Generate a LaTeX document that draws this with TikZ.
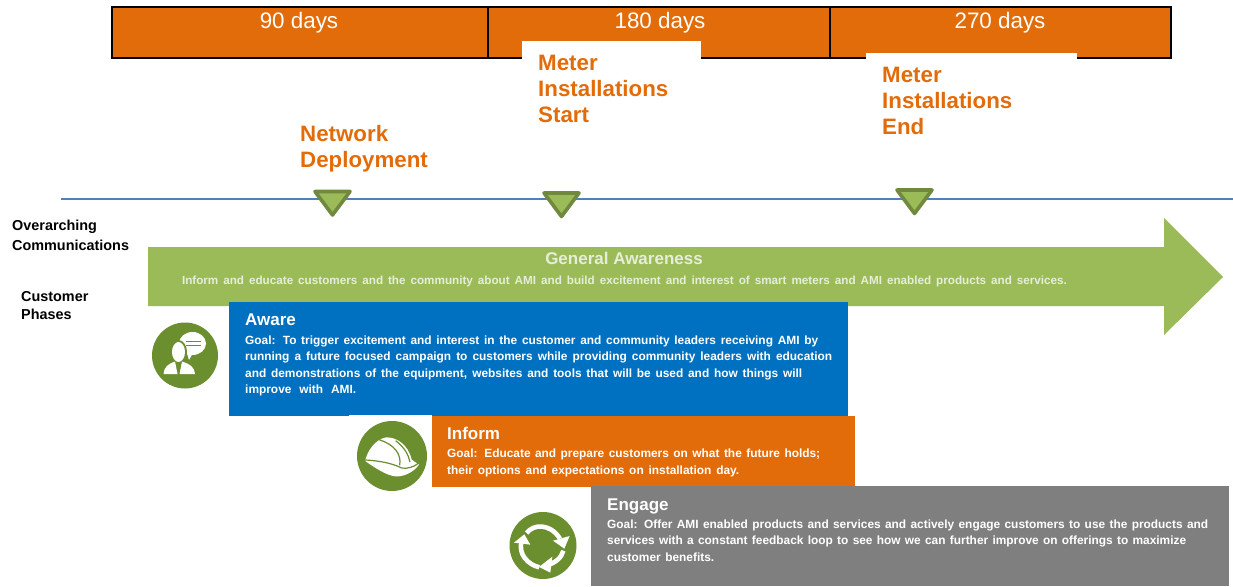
\documentclass[tikz,border=0pt]{standalone}
\usepackage{fontspec}
\setmainfont{Liberation Sans}
\definecolor{barorange}{HTML}{E36C0A}
\definecolor{leaf}{HTML}{9BBB59}
\definecolor{leafdark}{HTML}{71893F}
\definecolor{icongreen}{HTML}{6B8E2F}
\definecolor{awareblue}{HTML}{0070C0}
\definecolor{enggray}{HTML}{7F7F7F}
\definecolor{ruleblue}{HTML}{4F81BD}
\definecolor{softtext}{HTML}{E6EDD8}
\newcommand{\fitline}[2]{\makebox[#1pt][s]{#2}}
\tikzset{
  barcell/.style={draw=black,line width=1.6pt,fill=barorange},
  dayslabel/.style={text=white,font=\fontsize{22.4}{26}\selectfont,inner sep=0pt,anchor=center},
  milestone/.style={text=barorange,font=\fontsize{22.3}{26}\selectfont\bfseries,align=left,inner sep=0pt,anchor=north west},
  sidelabel/.style={text=black,font=\fontsize{14.4}{20}\selectfont\bfseries,align=left,inner sep=0pt,anchor=north west},
  phasetitle/.style={text=white,font=\fontsize{17}{18}\selectfont\bfseries,inner sep=0pt,anchor=base west},
  phasebody/.style={text=white,font=\fontsize{11.9}{16.4}\selectfont\bfseries,align=left,inner sep=0pt,anchor=north west},
  marker/.style={draw=leafdark,fill=leaf,line width=3.6pt,line join=round},
  iconbg/.style={fill=icongreen,draw=none},
  iconfg/.style={fill=white,draw=none},
  zoomgrid/.style={x=0.3333pt,y=-0.3333pt}
}
\begin{document}
\begin{tikzpicture}[x=1pt,y=-1pt]
\useasboundingbox (0,0) rectangle (1233,586);
\fill[white] (0,0) rectangle (1233,586);
% top bar
\draw[barcell] (112,7) rectangle (488,58);
\draw[barcell] (488,7) rectangle (830,58);
\draw[barcell] (830,7) rectangle (1171,58);
\node[dayslabel] (d90) at (299,22.5) {90 days};
\node[dayslabel] (d180) at (660,22.5) {180 days};
\node[dayslabel] (d270) at (1000,22.5) {270 days};
\fill[white] (522,41) rectangle (701,70);
\fill[white] (866,53) rectangle (1077,70);
% milestones
\node[milestone] (net) at (300,125) {Network\\Deployment};
\node[milestone] (mstart) at (538,55) {Meter\\Installations\\Start};
\node[milestone] (mend) at (882,67) {Meter\\Installations\\End};
% timeline
\draw[ruleblue,line width=1.2pt] (61,199) -- (1233,199);
\draw[marker] (315,191.5) -- (350,191.5) -- (332.5,215) -- cycle;
\draw[marker] (544,193) -- (579,193) -- (561.5,216.5) -- cycle;
\draw[marker] (897,190) -- (932,190) -- (914.5,213.5) -- cycle;
% side labels
\node[sidelabel] (over) at (12,220) {Overarching\\Communications};
\node[sidelabel,font=\fontsize{14.4}{18}\selectfont\bfseries] (cust) at (21,291) {Customer\\Phases};
% arrow
\fill[leaf] (148,247) -- (1164,247) -- (1164,218) -- (1223,277) -- (1164,335) -- (1164,306) -- (148,306) -- cycle;
\node[text=softtext,font=\fontsize{17}{18}\selectfont\bfseries,inner sep=0pt] (gen) at (624,258) {General Awareness};
\node[text=softtext,font=\fontsize{11.7}{14}\selectfont\bfseries,inner sep=0pt] (gentxt) at (624.5,281) {\fitline{885}{Inform and educate customers and the community about AMI and build excitement and interest of smart meters and AMI enabled products and services.}};
% phase boxes
\fill[awareblue] (229,302) rectangle (848,416);
\fill[white] (349,415) rectangle (432,495);
\fill[barorange] (432,416) rectangle (855,487);
\fill[enggray] (591,486) rectangle (1229,586);
\node[phasetitle] (aware) at (245,325.5) {Aware};
\node[phasebody] (awaretxt) at (245,335.5) {\fitline{573}{Goal: To trigger excitement and interest in the customer and community leaders receiving AMI by}\\
\fitline{587}{running a future focused campaign to customers while providing community leaders with education}\\
\fitline{557}{and demonstrations of the equipment, websites and tools that will be used and how things will}\\
\fitline{111}{improve with AMI.}};
\node[phasetitle] (inform) at (447,439.5) {Inform};
\node[phasebody,font=\fontsize{11.9}{17}\selectfont\bfseries] (informtxt) at (447,448.5) {\fitline{373}{Goal: Educate and prepare customers on what the future holds;}\\
\fitline{292}{their options and expectations on installation day.}};
\node[phasetitle] (engage) at (607,510.5) {Engage};
\node[phasebody] (engagetxt) at (607,519.5) {\fitline{601}{Goal: Offer AMI enabled products and services and actively engage customers to use the products and}\\
\fitline{579}{services with a constant feedback loop to see how we can further improve on offerings to maximize}\\
\fitline{107}{customer benefits.}};
% icon: person with speech bubble
\fill[iconbg] (185,355.5) circle (33);
\fill[iconfg] (192.5,343.5) ellipse (13.5 and 11.5);
\fill[iconfg] (186,350) -- (189,360) -- (194,351) -- cycle;
\draw[icongreen,line width=1.2pt] (186,341.5) -- (201,341.5);
\draw[icongreen,line width=1.2pt] (186,345.5) -- (201,345.5);
\fill[iconbg] (178.5,352) ellipse (8.5 and 12);
\fill[iconfg] (178.5,352) ellipse (6.5 and 10);
\fill[iconfg] (163.5,374) .. controls (164,367) and (168,364) .. (175,361.5) -- (177.5,374) -- cycle;
\fill[iconfg] (195,374) .. controls (194.5,367) and (190,364) .. (182,361.5) -- (179.5,374) -- cycle;
% icon: hard hat
\fill[iconbg] (392,456) circle (35);
\begin{scope}[shift={(355,418)},zoomgrid]
\fill[iconfg] (32,122) .. controls (45,80) and (75,60) .. (95,58)
  .. controls (125,58) and (160,80) .. (170,125) -- (192,140)
  .. controls (175,165) and (140,178) .. (120,175)
  .. controls (95,172) and (60,150) .. (32,130) -- cycle;
\draw[icongreen,line width=1.2pt] (72,65) .. controls (120,80) and (140,110) .. (134,142);
\draw[icongreen,line width=1.2pt] (122,68) .. controls (150,90) and (160,110) .. (165,132);
\draw[icongreen,line width=1.2pt] (32,126) .. controls (70,128) and (110,135) .. (140,150) .. controls (155,153) and (175,148) .. (190,136);
\end{scope}
% icon: cycle arrows
\fill[iconbg] (543,545.5) circle (33.5);
\begin{scope}[shift={(505,508)},zoomgrid]
\draw[white,line width=4.6pt] (65,75) .. controls (85,48) and (135,45) .. (165,92);
\fill[iconfg] (194,84) -- (144,98) -- (178,122) -- cycle;
\draw[white,line width=4.6pt] (175,128) .. controls (170,150) and (150,165) .. (125,172);
\fill[iconfg] (142,146) -- (102,177) -- (136,194) -- cycle;
\draw[white,line width=4.6pt] (103,178) .. controls (70,170) and (38,140) .. (50,98);
\fill[iconfg] (58,79) -- (27,104) -- (76,110) -- cycle;
\end{scope}
\end{tikzpicture}
\end{document}
